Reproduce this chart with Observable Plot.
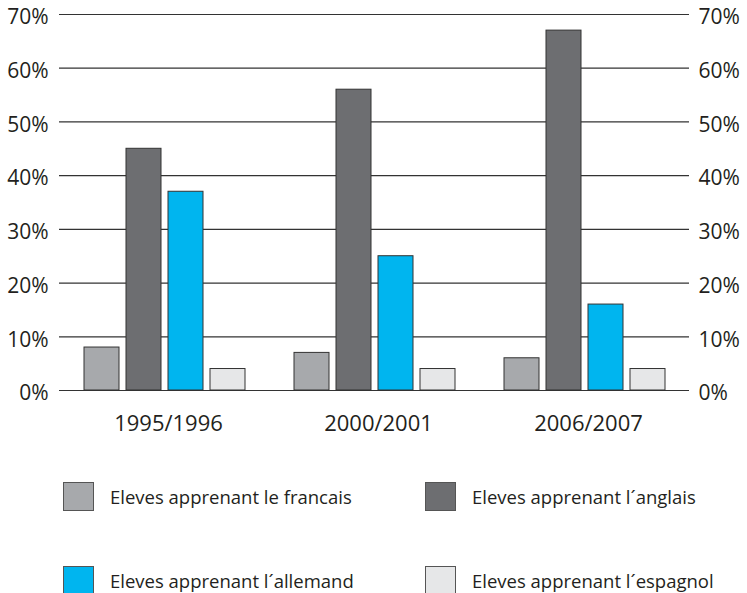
<!DOCTYPE html>
<html>
<head>
<meta charset="utf-8">
<script src="https://cdn.jsdelivr.net/npm/d3@7"></script>
<script src="https://cdn.jsdelivr.net/npm/@observablehq/plot@0.6"></script>
<style>
  body { margin: 0; background: #fff; font-family: "Open Sans", sans-serif; color: #231f20; }
  #wrap { position: relative; width: 747px; height: 593px; overflow: hidden; }
  #legend { position: relative; width: 747px; height: 143px; }
  .item { position: absolute; display: flex; align-items: center; font-size: 18.5px; }
  .sw { width: 31px; height: 29px; box-sizing: border-box; border: 1px solid #555; margin-right: 16px; }
</style>
</head>
<body>
<div id="wrap">
<div id="chart"></div>
<div id="legend"></div>
</div>
<script>
const periods = ["1995/1996", "2000/2001", "2006/2007"];
const languages = ["Eleves apprenant le francais", "Eleves apprenant l´anglais", "Eleves apprenant l´allemand", "Eleves apprenant l´espagnol"];
const francais = [8, 7, 6];
const anglais = [45, 56, 67];
const allemand = [37, 25, 16];
const espagnol = [4, 4, 4];
const colors = ["#a7a9ac", "#6d6e71", "#00b5ef", "#e6e7e8"];
const yTicks = [0, 10, 20, 30, 40, 50, 60, 70];

const series = [francais, anglais, allemand, espagnol];
const data = [];
periods.forEach((p, i) => languages.forEach((l, j) => data.push({period: p, language: l, value: series[j][i]})));

const chart = Plot.plot({
  width: 747, height: 450,
  marginLeft: 59, marginRight: 58, marginTop: 14, marginBottom: 60,
  style: {fontFamily: "Open Sans", fontSize: "21px", color: "#231f20", background: "white"},
  fx: {domain: periods, padding: 0, label: null},
  x: {domain: languages, paddingInner: 0.1667, paddingOuter: 0.583, axis: null},
  y: {domain: [0, 70], axis: null},
  color: {domain: languages, range: colors},
  marks: [
    Plot.ruleY(yTicks, {stroke: "#333", strokeWidth: 1.2}),
    Plot.barY(data, {fx: "period", x: "language", y: "value", fill: "language", stroke: "#333", strokeWidth: 1}),
    Plot.axisY({anchor: "left", ticks: yTicks, tickSize: 0, tickPadding: 11, dy: 3, tickFormat: d => d + "%", line: true, stroke: "#333", label: null, fontSize: 21}),
    Plot.axisY({anchor: "right", ticks: yTicks, tickSize: 0, tickPadding: 9, dy: 3, tickFormat: d => d + "%", line: true, stroke: "#333", label: null, fontSize: 21}),
    Plot.axisFx({anchor: "bottom", tickSize: 0, tickPadding: 25, label: null, fontSize: 22, dx: 4})
  ]
});
document.getElementById("chart").appendChild(chart);

const legend = document.getElementById("legend");
const pos = [[63, 32], [425, 32], [63, 116], [425, 116]];
languages.forEach((l, i) => {
  const d = document.createElement("div");
  d.className = "item";
  d.style.left = pos[i][0] + "px";
  d.style.top = pos[i][1] + "px";
  const s = document.createElement("div");
  s.className = "sw";
  s.style.background = colors[i];
  const t = document.createElement("span");
  t.textContent = l;
  d.appendChild(s); d.appendChild(t);
  legend.appendChild(d);
});
</script>
</body>
</html>
